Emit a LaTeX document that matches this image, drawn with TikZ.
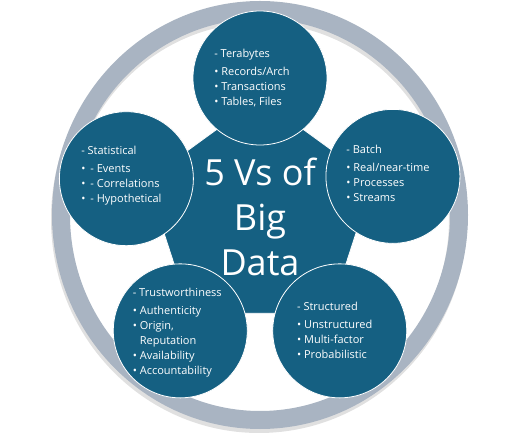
\documentclass[tikz,border=0pt]{standalone}
\usepackage{fontspec}
\setmainfont{Open Sans}
\usetikzlibrary{shapes.geometric, positioning}
\definecolor{vblue}{HTML}{156082}
\definecolor{vring}{HTML}{A9B4C2}

\begin{document}
\begin{tikzpicture}[x=1pt,y=1pt,
      every node/.style={text=white, font=\fontsize{11}{15}\selectfont},
      vcircle/.style={circle, fill=vblue, draw=white, line width=0.8pt,
        minimum size=134pt, inner sep=0pt},
      vlist/.style={align=left, inner sep=0pt},
      core/.style={regular polygon, regular polygon sides=5,
        fill=vblue, draw=white, line width=0.8pt, minimum size=238pt},
      bigtext/.style={font=\fontsize{36}{45}\selectfont, align=center}]
      \useasboundingbox (-260,-218) rectangle (261,217);
      % ring with a soft shadow
      \draw[black, opacity=0.12, line width=18pt] (-1,-2) ellipse [x radius=199, y radius=205];
      \draw[vring, line width=18pt] (0,2) ellipse [x radius=199, y radius=205];
      \node[core] (bigdata) at (0,0) {};
      \node[bigtext] (title) at (0,0) {5 Vs of\\Big\\Data};
      \node[vcircle] (volume) at (90:139) {};
      \node[vcircle] (velocity) at (17:139) {};
      \node[vcircle] (variety) at (305:139) {};
      \node[vcircle] (veracity) at (235:139) {};
      \node[vcircle] (value) at (164:139) {};
      \node[vlist] (volume-text) at ([shift={(-8,0)}]volume) {- Terabytes\\[3pt]
        \textbullet\ Records/Arch\\ \textbullet\ Transactions\\ \textbullet\ Tables, Files};
      \node[vlist] (velocity-text) at ([shift={(-5,3)}]velocity) {- Batch\\[3pt]
        \textbullet\ Real/near-time\\ \textbullet\ Processes\\ \textbullet\ Streams};
      \node[vlist] (variety-text) at ([shift={(-5,0)}]variety) {- Structured\\[3pt]
        \textbullet\ Unstructured\\ \textbullet\ Multi-factor\\ \textbullet\ Probabilistic};
      \node[vlist] (veracity-text) at ([shift={(-3,-2)}]veracity) {- Trustworthiness\\[3pt]
        \textbullet\ Authenticity\\ \textbullet\ Origin,\\ \hphantom{\textbullet\ }Reputation\\
        \textbullet\ Availability\\ \textbullet\ Accountability};
      \node[vlist] (value-text) at ([shift={(-5,3)}]value) {- Statistical\\[3pt]
        \textbullet\hspace{5pt}- Events\\ \textbullet\hspace{5pt}- Correlations\\
        \textbullet\hspace{5pt}- Hypothetical};
\end{tikzpicture}
\end{document}
